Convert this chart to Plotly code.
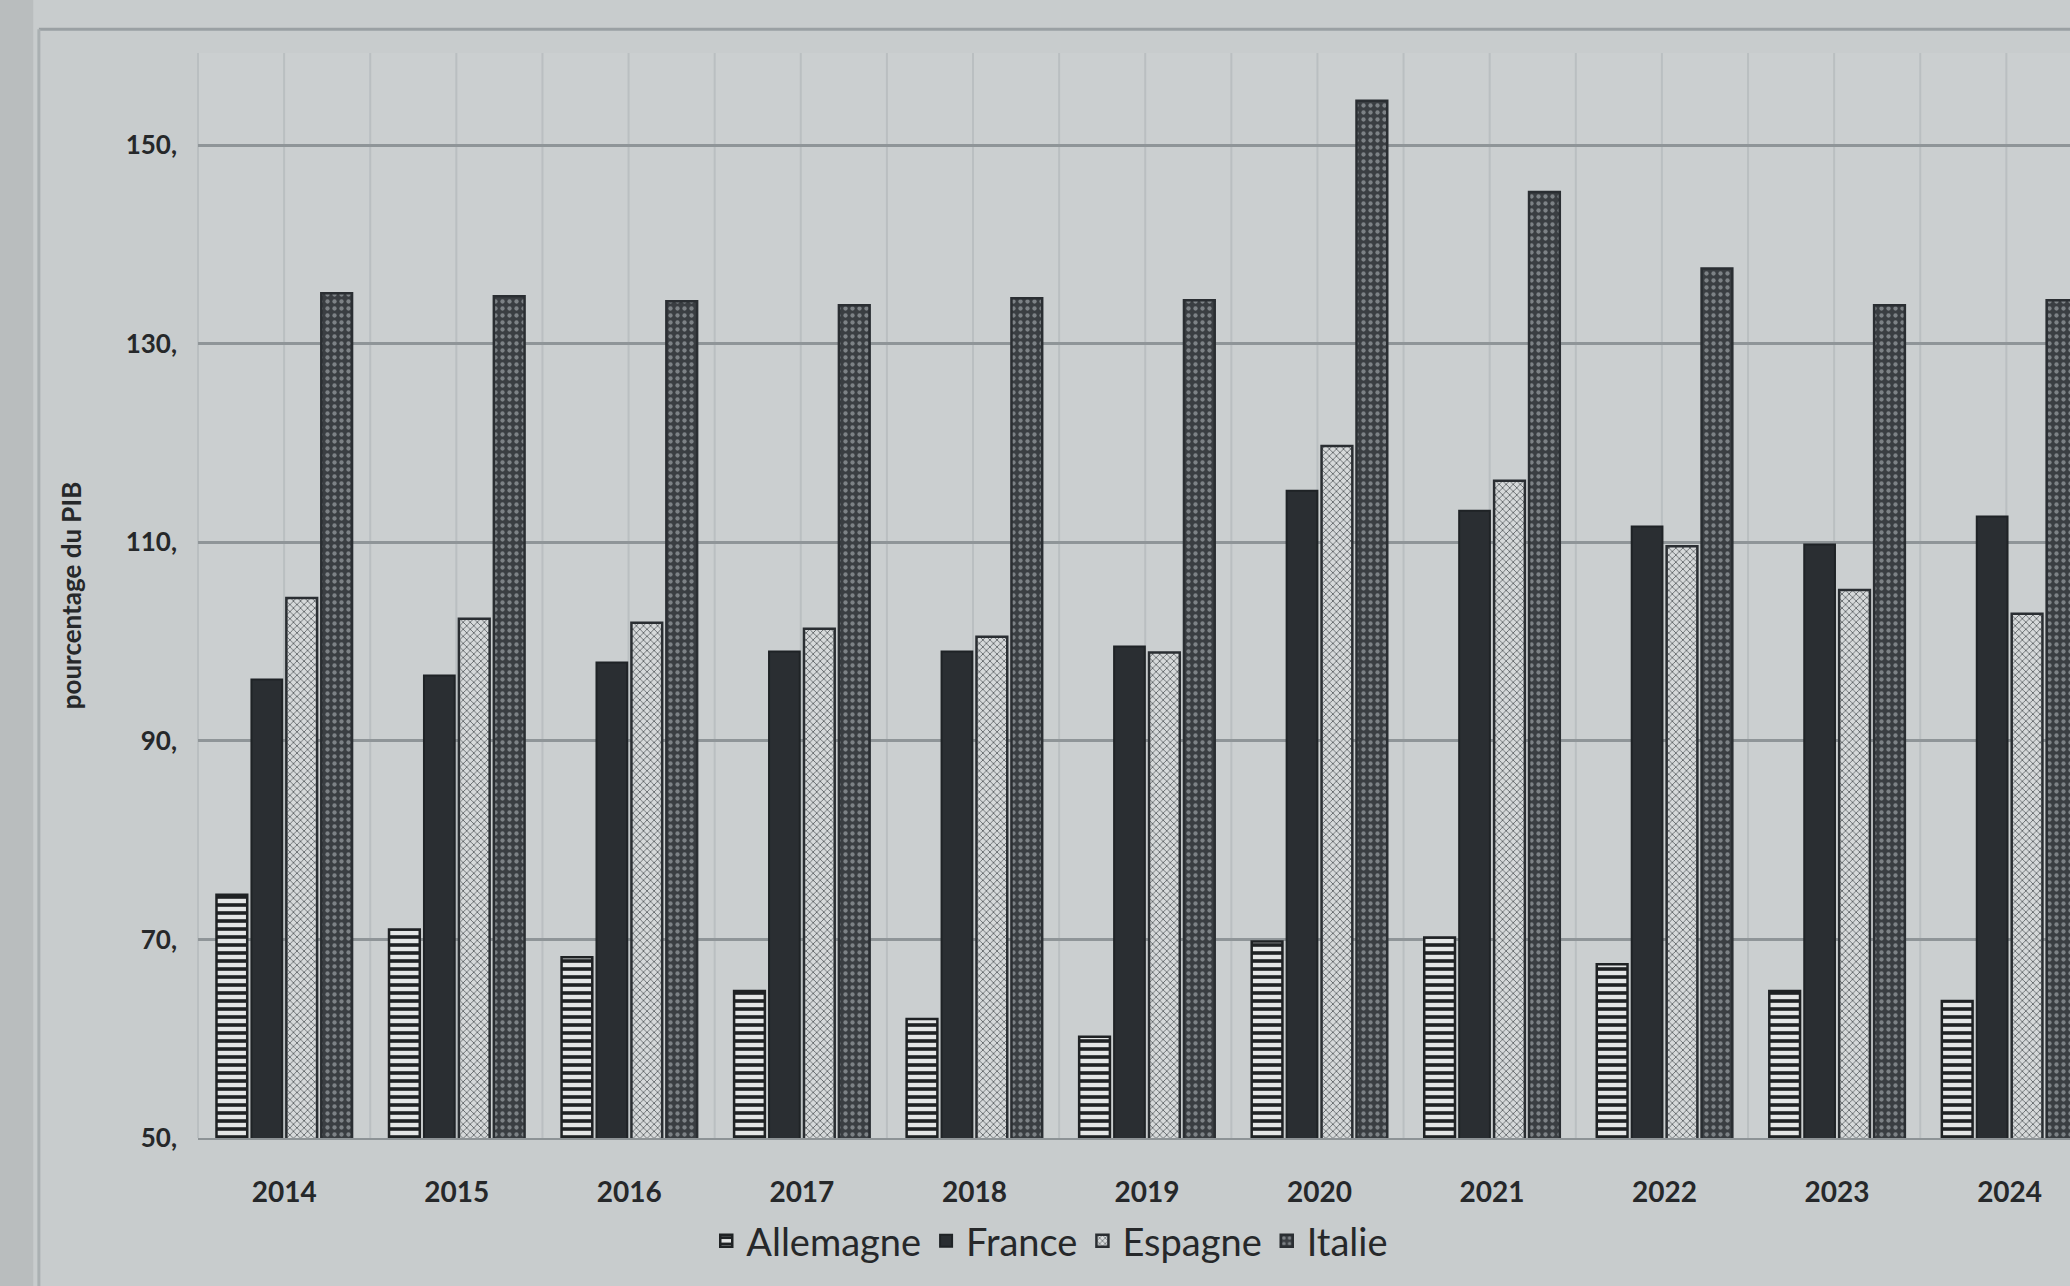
import plotly.graph_objects as go

years = ["2014", "2015", "2016", "2017", "2018", "2019", "2020", "2021", "2022", "2023", "2024"]
allemagne = [74.5, 71.0, 68.2, 64.8, 62.0, 60.2, 69.8, 70.2, 67.5, 64.8, 63.8]
france = [96.2, 96.6, 97.9, 99.0, 99.0, 99.5, 115.2, 113.2, 111.6, 109.8, 112.6]
espagne = [104.4, 102.3, 101.9, 101.3, 100.5, 98.9, 119.7, 116.2, 109.6, 105.2, 102.8]
italie = [135.1, 134.8, 134.3, 133.9, 134.6, 134.4, 154.5, 145.3, 137.6, 133.9, 134.4]
ytick_vals = [50, 70, 90, 110, 130, 150]
ytick_text = ["50,", "70,", "90,", "110,", "130,", "150,"]

x_idx = list(range(len(years)))
FONT = "Lato"
TXT = "#26282a"

fig = go.Figure()
fig.add_trace(go.Bar(
    name="Allemagne", x=x_idx, y=allemagne,
    marker=dict(color="#e4e6e6", line=dict(color="#1f2224", width=2.5),
                pattern=dict(shape="-", fgcolor="#1f2224", bgcolor="#e4e6e6",
                             size=8, solidity=0.45, fillmode="replace")),
))
fig.add_trace(go.Bar(
    name="France", x=x_idx, y=france,
    marker=dict(color="#2a2e32", line=dict(color="#1f2326", width=2)),
))
fig.add_trace(go.Bar(
    name="Espagne", x=x_idx, y=espagne,
    marker=dict(color="#d6d9da", line=dict(color="#2a2e32", width=2.5),
                pattern=dict(shape="x", fgcolor="#5a5f63", bgcolor="#d6d9da",
                             size=5, solidity=0.3, fillmode="replace")),
))
fig.add_trace(go.Bar(
    name="Italie", x=x_idx, y=italie,
    marker=dict(color="#3a3e42", line=dict(color="#2a2e32", width=2.5),
                pattern=dict(shape=".", fgcolor="#7d8286", bgcolor="#3a3e42",
                             size=7, solidity=0.3, fillmode="replace")),
))

# faint vertical page-grid lines (decoration)
shapes = []
for i in range(40):
    xp = 0.0 + i * 0.046
    if xp > 1:
        break
    shapes.append(dict(type="line", xref="paper", yref="paper", x0=xp, x1=xp,
                       y0=0, y1=1, line=dict(color="#babfc1", width=2), layer="below"))
# outer frame lines of the printed chart
shapes.append(dict(type="line", xref="paper", yref="paper", x0=-0.085, x1=1.0,
                   y0=1.022, y1=1.022, line=dict(color="#9aa0a3", width=3)))
shapes.append(dict(type="line", xref="paper", yref="paper", x0=-0.085, x1=-0.085,
                   y0=1.022, y1=-0.2, line=dict(color="#aab0b2", width=3)))
shapes.append(dict(type="rect", xref="paper", yref="paper", x0=-0.106, x1=-0.088,
                   y0=-0.2, y1=1.05, fillcolor="#b9bdbe", line=dict(width=0), layer="below"))

fig.update_layout(
    width=2070, height=1286,
    margin=dict(l=198, r=0, t=53, b=148),
    paper_bgcolor="#c8cccd",
    plot_bgcolor="#cbcfd0",
    barmode="group",
    bargap=0.19,
    bargroupgap=0.12,
    font=dict(family=FONT, color=TXT),
    shapes=shapes,
    showlegend=True,
    legend=dict(orientation="h", x=0.455, y=-0.095, xanchor="center", yanchor="middle",
                font=dict(size=38, family=FONT, color=TXT), bgcolor="rgba(0,0,0,0)",
                itemwidth=30, tracegroupgap=0),
)
fig.update_xaxes(
    tickmode="array", tickvals=x_idx, ticktext=years,
    range=[-0.5, 10.35], showgrid=False, zeroline=False,
    showline=True, linecolor="#8d9396", linewidth=2,
    tickfont=dict(size=28, family=FONT, color=TXT, weight="bold"),
    ticks="", ticklabelstandoff=28,
)
fig.update_yaxes(
    range=[50, 159.3], tickmode="array", tickvals=ytick_vals, ticktext=ytick_text,
    showgrid=True, gridcolor="#8f9598", gridwidth=2.5, zeroline=False,
    showline=False,
    tickfont=dict(size=26, family=FONT, color=TXT, weight="bold"),
    ticks="", ticklabelstandoff=20,
    title=dict(text="pourcentage du PIB", font=dict(size=26, family=FONT, color=TXT, weight="bold"), standoff=36),
)

fig.write_html("out.html")
